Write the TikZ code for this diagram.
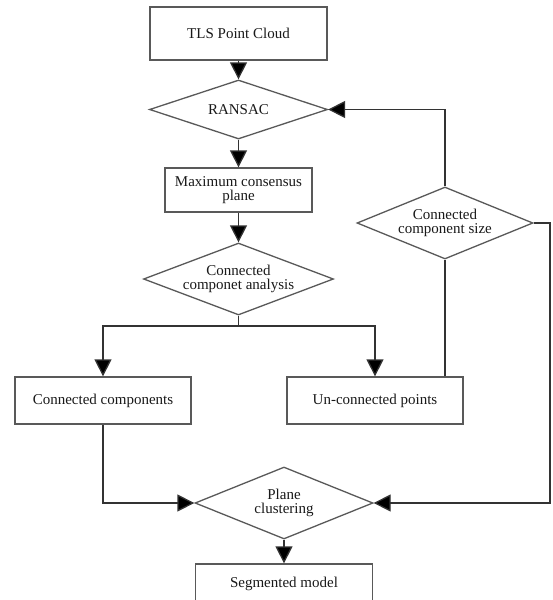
\documentclass[tikz,border=0pt]{standalone}
\usepackage{fontspec}
\setmainfont{Liberation Serif}
\usetikzlibrary{shapes.geometric,arrows.meta}
\begin{document}
\begin{tikzpicture}[x=1pt,y=-1pt,
  line/.style={draw=black!80, line width=1.3pt},
  arr/.style={line, -{Triangle[width=17pt,length=17pt,fill=black]}},
  txt/.style={font=\fontsize{15}{14.5}\selectfont, align=center, text=black!90},
  box/.style={draw=black!65, line width=1.3pt, inner sep=0pt, txt},
  dia/.style={diamond, draw=black!65, line width=1.3pt, inner sep=0pt}]
\useasboundingbox[fill=white] (0,0) rectangle (553,600);
% nodes
\node[box, minimum width=177pt, minimum height=53pt] (tls) at (238.5,33.5) {TLS Point Cloud};
\node[dia, minimum width=178pt, minimum height=59pt, label={[txt]center:RANSAC}] (ransac) at (238.5,109.5) {};
\node[box, minimum width=147pt, minimum height=44pt] (maxc) at (238.5,190) {Maximum consensus\\plane};
\node[dia, minimum width=190pt, minimum height=72pt, label={[txt]center:Connected\\componet analysis}] (cca) at (238.5,279) {};
\coordinate (jn) at (238.5,326);
\node[box, minimum width=176pt, minimum height=47pt] (cc) at (103,400.5) {Connected components};
\node[box, minimum width=176pt, minimum height=47pt] (ucp) at (375,400.5) {Un-connected points};
\node[dia, minimum width=176pt, minimum height=72pt, label={[txt]center:Connected\\component size}] (ccs) at (445,223) {};
\coordinate (rt) at (550,223);
\node[dia, minimum width=178pt, minimum height=72pt, label={[txt]center:Plane\\clustering}] (pc) at (284,503) {};
\node[box, minimum width=177pt, minimum height=40pt] (sm) at (284,584) {Segmented model};
% connectors
\draw[arr] (tls.south) -- (ransac.north);
\draw[arr] (ransac.south) -- (maxc.north);
\draw[arr] (maxc.south) -- (cca.north);
\draw[line] (cca.south) -- (jn);
\draw[arr] (jn) -| (cc.north);
\draw[arr] (jn) -| (ucp.north);
\draw[line] (ccs.south |- ucp.north) -- (ccs.south);
\draw[arr] (ccs.north) |- (ransac.east);
\draw[arr] (ccs.east) -- (rt) |- (pc.east);
\draw[arr] (cc.south) |- (pc.west);
\draw[arr] (pc.south) -- (sm.north);
\end{tikzpicture}
\end{document}
